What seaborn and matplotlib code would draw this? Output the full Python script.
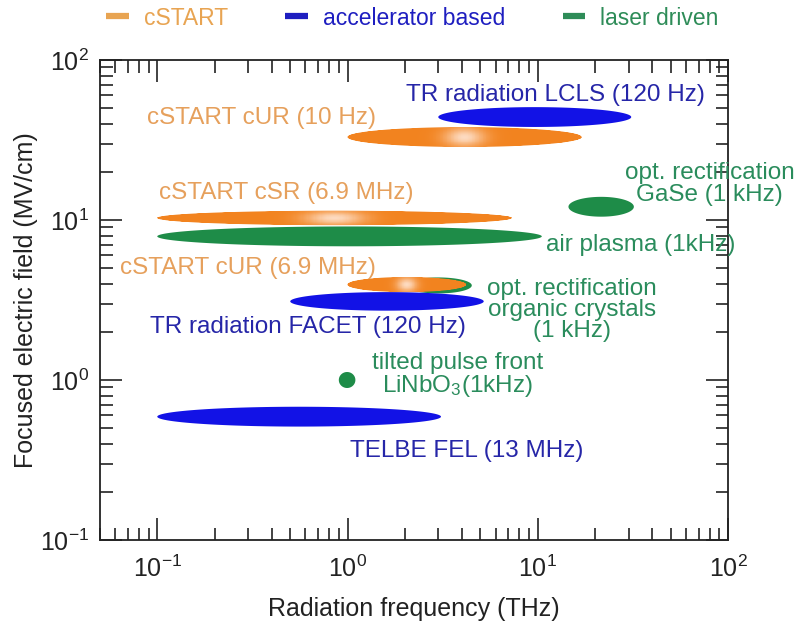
import numpy as np
import pandas as pd
import seaborn as sns
import matplotlib
matplotlib.use("Agg")
import matplotlib.pyplot as plt
from matplotlib.patches import Polygon
from matplotlib.lines import Line2D

# --- THz source parameter space -------------------------------------------
sources = ["cSTART cUR (10 Hz)", "TR radiation LCLS (120 Hz)", "cSTART cSR (6.9 MHz)",
           "air plasma (1kHz)", "opt. rectification GaSe (1 kHz)",
           "opt. rectification organic crystals (1 kHz)", "cSTART cUR (6.9 MHz)",
           "TR radiation FACET (120 Hz)", "tilted pulse front LiNbO3 (1kHz)",
           "TELBE FEL (13 MHz)"]
freq_min = [1.0, 3.0, 0.1, 0.1, 14.5, 2.0, 1.0, 0.5, 0.9, 0.1]     # THz
freq_max = [17.0, 31.0, 7.3, 10.5, 32.0, 4.5, 4.2, 5.2, 1.1, 3.1]  # THz
field = [33.0, 44.0, 10.3, 7.9, 12.1, 3.9, 3.95, 3.1, 1.0, 0.59]   # MV/cm
kind = ["cSTART", "accelerator based", "cSTART", "laser driven", "laser driven",
        "laser driven", "cSTART", "accelerator based", "laser driven",
        "accelerator based"]

categories = ["cSTART", "accelerator based", "laser driven"]

df = pd.DataFrame({"source": sources, "fmin": freq_min, "fmax": freq_max,
                   "field": field, "kind": kind})

# --- styling ----------------------------------------------------------------
sns.set_theme(style="ticks")
FONT = ["Liberation Sans", "DejaVu Sans"]
plt.rcParams["font.family"] = FONT
plt.rcParams["mathtext.fontset"] = "custom"
plt.rcParams["mathtext.rm"] = "Liberation Sans"
plt.rcParams["mathtext.it"] = "Liberation Sans:italic"

fill_colors = dict(zip(categories, sns.color_palette(["#F2831F", "#1212E6", "#1E8C48"])))
text_colors = {"cSTART": "#E6A05C", "accelerator based": "#2626A8", "laser driven": "#2A8C5C"}
legend_colors = {"cSTART": "#E8A452", "accelerator based": "#1E1EC0", "laser driven": "#2E8C58"}

# ellipse half-heights (in decades) per source
half_height = [0.062, 0.062, 0.045, 0.062, 0.062, 0.05, 0.047, 0.058, 0.05, 0.062]

fig = plt.figure(figsize=(7.96, 6.21), dpi=100)
ax = fig.add_axes([100 / 796, 81 / 621, 628 / 796, 480 / 621])
ax.set_xscale("log")
ax.set_yscale("log")
ax.set_xlim(0.05, 100)
ax.set_ylim(0.1, 100)


def ellipse_outline(fmin, fmax, e, hh, n=240):
    cx = 0.5 * (np.log10(fmin) + np.log10(fmax))
    a = 0.5 * (np.log10(fmax) - np.log10(fmin))
    cy = np.log10(e)
    t = np.linspace(0, 2 * np.pi, n)
    return 10 ** (cx + a * np.cos(t)), 10 ** (cy + hh * np.sin(t)), (cx, a, cy)


def gradient_ellipse(fmin, fmax, e, hh, base, z):
    xs, ys, (cx, a, cy) = ellipse_outline(fmin, fmax, e, hh)
    # solid base gives a smooth, antialiased rim
    ax.fill(xs, ys, color=base, lw=0, zorder=z)
    xi, yi, _ = ellipse_outline(fmin, fmax, e, hh * 0.97)
    poly = Polygon(np.column_stack([xi, yi]), closed=True, facecolor="none",
                   edgecolor="none", transform=ax.transData)
    ax.add_patch(poly)
    lx = np.linspace(cx - a, cx + a, 301)
    ly = np.linspace(cy - hh, cy + hh, 41)
    u = (0.5 * (lx[:-1] + lx[1:]) - cx) / a
    v = (0.5 * (ly[:-1] + ly[1:]) - cy) / hh
    U, V = np.meshgrid(u, v)
    w = 0.82 * np.exp(-(U / 0.17) ** 2) * np.exp(-(V / 0.95) ** 2)
    base = np.array(base)
    hi = np.array([1.0, 0.93, 0.89])
    rgb = base[None, None, :] * (1 - w[..., None]) + hi[None, None, :] * w[..., None]
    rgba = np.concatenate([rgb, np.ones(w.shape + (1,))], axis=-1)
    X, Y = np.meshgrid(10 ** lx, 10 ** ly)
    mesh = ax.pcolormesh(X, Y, rgba, shading="flat", edgecolors="none",
                         antialiased=False, zorder=z + 0.5)
    mesh.set_clip_path(poly)


draw_order = [5, 0, 1, 2, 3, 4, 6, 7, 8, 9]
for z, i in enumerate(draw_order):
    row = df.iloc[i]
    col = fill_colors[row["kind"]]
    if row["kind"] == "cSTART":
        gradient_ellipse(row["fmin"], row["fmax"], row["field"], half_height[i], col, 2 + z)
    else:
        xs, ys, _ = ellipse_outline(row["fmin"], row["fmax"], row["field"], half_height[i])
        ax.fill(xs, ys, color=col, lw=0, zorder=2 + z)

# --- labels -------------------------------------------------------------------
TS = 17.5
labels = [
    ("cSTART cUR (10 Hz)", 0.355, 43.4, "cSTART", 1.0),
    ("TR radiation LCLS (120 Hz)", 12.45, 60.4, "accelerator based", 1.0),
    ("cSTART cSR (6.9 MHz)", 0.4755, 14.75, "cSTART", 1.0),
    ("opt. rectification\nGaSe (1 kHz)", 80.3, 16.7, "laser driven", 1.0),
    ("air plasma (1kHz)", 34.7, 6.98, "laser driven", 1.0),
    ("cSTART cUR (6.9 MHz)", 0.299, 5.01, "cSTART", 1.0),
    ("opt. rectification\norganic crystals\n(1 kHz)", 15.1, 2.74, "laser driven", 0.93),
    ("TR radiation FACET (120 Hz)", 0.622, 2.14, "accelerator based", 1.0),
    ("tilted pulse front\nLiNbO$_3$(1kHz)", 3.77, 1.06, "laser driven", 0.95),
    ("TELBE FEL (13 MHz)", 4.21, 0.36, "accelerator based", 1.0),
]
for txt, x, y, k, ls in labels:
    ax.text(x, y, txt, color=text_colors[k], fontsize=TS, ha="center", va="center",
            multialignment="center", linespacing=ls, clip_on=False, zorder=20)

# --- axes -------------------------------------------------------------------
ax.set_xlabel("Radiation frequency (THz)", fontsize=18, color="#222222", labelpad=11)
ax.set_ylabel("Focused electric field (MV/cm)", fontsize=18, color="#222222", labelpad=1)
for s in ax.spines.values():
    s.set_linewidth(1.3)
    s.set_color("#222222")
ax.tick_params(which="both", direction="in", top=True, right=True, color="#222222",
               width=1.2)
ax.tick_params(which="major", length=16, labelsize=18, labelcolor="#222222")
ax.tick_params(axis="x", which="major", pad=11)
ax.tick_params(axis="y", which="major", pad=8)
ax.tick_params(which="minor", length=9)
ax.grid(False)

# --- legend -----------------------------------------------------------------
handles = [Line2D([0], [0], color=legend_colors[c], lw=4.5, solid_capstyle="butt")
           for c in categories]
leg = fig.legend(handles, categories, loc="center", bbox_to_anchor=(0.518, 0.971),
                 ncol=3, frameon=False, fontsize=16.5, handlelength=1.0,
                 handletextpad=0.65, columnspacing=2.5)
for t, c in zip(leg.get_texts(), categories):
    t.set_color(legend_colors[c])

fig.savefig("out.png", dpi=100)
